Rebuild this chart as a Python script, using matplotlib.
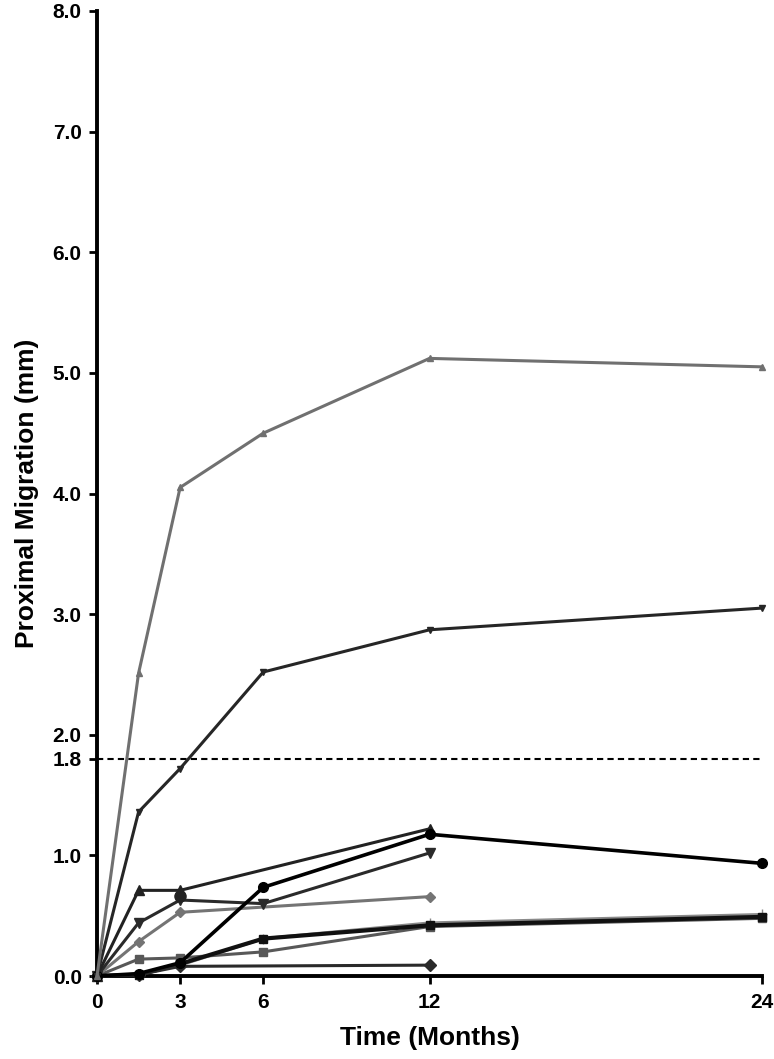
import numpy as np
import matplotlib
matplotlib.use("Agg")
import matplotlib.pyplot as plt

plt.rcParams['font.family'] = ['Liberation Sans', 'DejaVu Sans']
plt.rcParams['font.weight'] = 'bold'

nan = np.nan
months = [0, 1.5, 3, 6, 12, 24]
x_ticks = [0, 3, 6, 12, 24]
y_ticks = [0.0, 1.0, 1.8, 2.0, 3.0, 4.0, 5.0, 6.0, 7.0, 8.0]
threshold = 1.8

grey_triangle = [0, 2.51, 4.05, 4.50, 5.12, 5.05]
dark_invtri_a = [0, 1.36, 1.72, 2.52, 2.87, 3.05]
dark_triangle = [0, 0.71, 0.71, nan, 1.22, nan]
black_circle = [0, 0.02, 0.11, 0.735, 1.175, 0.934]
dark_invtri_b = [0, 0.44, 0.63, 0.60, 1.02, nan]
grey_diamond = [0, 0.285, 0.528, nan, 0.658, nan]
grey_square = [0, 0.14, 0.15, 0.20, 0.41, 0.478]
black_square = [0, 0.01, 0.10, 0.31, 0.42, 0.49]
light_plus = [0, 0.01, 0.09, 0.31, 0.44, 0.51]
dark_diamond = [0, 0.01, 0.08, nan, 0.09, nan]
circle_point_x = [3]
circle_point_y = [0.66]

fig = plt.figure(figsize=(7.74, 10.59), dpi=100)
ax = fig.add_axes([97/774, 1 - 976/1059, (762-97)/774, (976-11)/1059])

def series(vals, color, marker, ms, lw):
    x = np.array(months, dtype=float)
    y = np.array(vals, dtype=float)
    m = ~np.isnan(y)
    ax.plot(x[m], y[m], color=color, marker=marker, markersize=ms, lw=lw,
            clip_on=False, zorder=3)

ax.axhline(threshold, color='black', lw=1.5, ls=(0, (3, 2)), zorder=2)

series(light_plus, '#8a8a8a', '+', 7, 2.2)
series(grey_square, '#585858', 's', 6, 2.2)
series(black_square, '#111111', 's', 6, 3.0)
series(dark_diamond, '#2a2a2a', 'D', 6, 2.2)
series(grey_diamond, '#747474', 'D', 5, 2.2)
series(dark_invtri_b, '#2a2a2a', 'v', 7, 2.2)
series(dark_triangle, '#222222', '^', 7, 2.2)
series(black_circle, '#000000', 'o', 7, 2.6)
series(dark_invtri_a, '#262626', 'v', 5, 2.2)
series(grey_triangle, '#707070', '^', 5, 2.2)
ax.plot(circle_point_x, circle_point_y, ls='none', marker='o', color='#222222',
        markersize=8, zorder=4)

ax.set_xlim(0, 24)
ax.set_ylim(0, 8)
ax.set_xticks(x_ticks)
ax.set_xticklabels([str(v) for v in x_ticks])
ax.set_yticks(y_ticks)
ax.set_yticklabels([f"{v:.1f}" for v in y_ticks])

for s in ['top', 'right']:
    ax.spines[s].set_visible(False)
for s in ['left', 'bottom']:
    ax.spines[s].set_linewidth(2.8)
ax.tick_params(axis='both', direction='out', length=6, width=2, labelsize=15)
ax.tick_params(axis='y', pad=5)
ax.tick_params(axis='x', pad=6)

ax.set_xlabel('Time (Months)', fontsize=19, fontweight='bold', labelpad=10)
ax.set_ylabel('Proximal Migration (mm)', fontsize=19, fontweight='bold', labelpad=10)

fig.savefig('out.png', dpi=100)
